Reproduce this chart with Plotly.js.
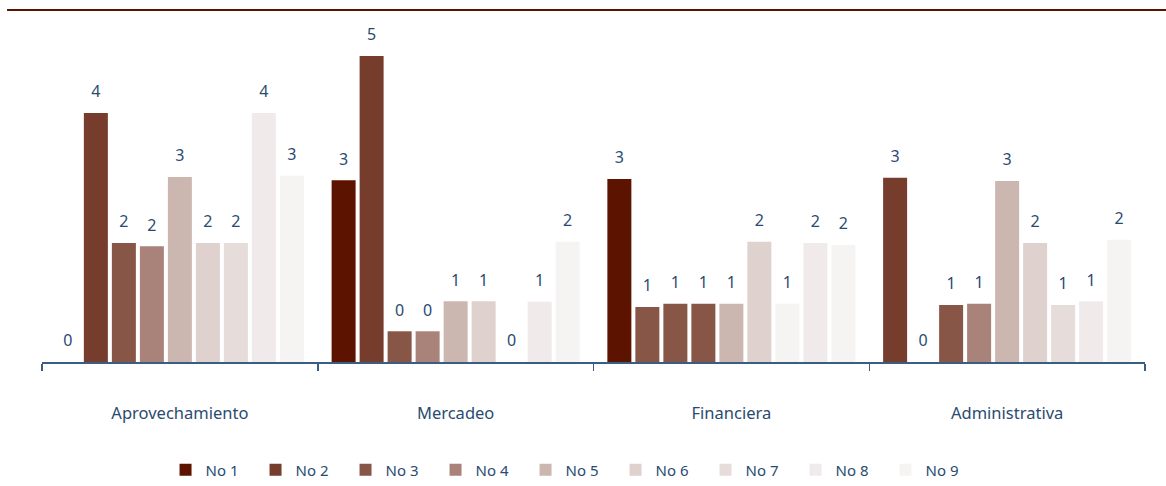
<!DOCTYPE html>
<html>
<head>
<meta charset="utf-8">
<script src="https://cdn.plot.ly/plotly-3.0.1.min.js"></script>
<style>html,body{margin:0;padding:0;background:#fff;}#chart{width:1166px;height:486px;}</style>
</head>
<body>
<div id="chart"></div>
<script>
// ---- data ----
var categories = ['Aprovechamiento', 'Mercadeo', 'Financiera', 'Administrativa'];
var seriesNames = ['No 1', 'No 2', 'No 3', 'No 4', 'No 5', 'No 6', 'No 7', 'No 8', 'No 9'];
var no1 = [0, 2.84, 2.86, 2.88];
var no2 = [3.89, 4.78, 0.86, 0];
var no3 = [1.86, 0.48, 0.91, 0.89];
var no4 = [1.81, 0.48, 0.91, 0.91];
var no5 = [2.89, 0.95, 0.91, 2.83];
var no6 = [1.86, 0.95, 1.88, 1.86];
var no7 = [1.86, 0, 0.91, 0.89];
var no8 = [3.89, 0.94, 1.86, 0.95];
var no9 = [2.91, 1.88, 1.83, 1.91];
var seriesValues = [no1, no2, no3, no4, no5, no6, no7, no8, no9];

// ---- styles ----
var palette = ['#5C1400', '#763D2D', '#885647', '#A98379', '#CBB7B0', '#DED1CE', '#E6DCDA', '#F0EBEA', '#F6F4F3'];
// per-bar colour overrides seen in the reference: [series, category, paletteIndex]
var colorOverrides = [[1, 2, 2], [3, 2, 2], [6, 2, 8], [0, 3, 1]];
var textColor = '#2A4B70';
var axisColor = '#3A5D85';
var fontFamily = '"Noto Sans", "Open Sans", sans-serif';

var traces = [];
seriesValues.forEach(function (vals, i) {
  var cols = categories.map(function () { return palette[i]; });
  colorOverrides.forEach(function (o) { if (o[0] === i) cols[o[1]] = palette[o[2]]; });
  traces.push({
    type: 'bar', name: seriesNames[i], x: categories, y: vals,
    marker: { color: cols, line: { width: 0 } },
    hoverinfo: 'skip'
  });
});
seriesValues.forEach(function (vals, i) {
  traces.push({
    type: 'scatter', mode: 'markers+text', orientation: 'v',
    x: categories, y: vals, showlegend: false, hoverinfo: 'skip',
    text: vals.map(function (v) { return String(Math.round(v)); }),
    textposition: 'top center',
    textfont: { family: fontFamily, size: 16, color: textColor },
    marker: { size: 17, opacity: 0 },
    cliponaxis: false
  });
});

var layout = {
  width: 1166, height: 486,
  margin: { l: 42, r: 21, t: 10, b: 124, autoexpand: false },
  paper_bgcolor: '#ffffff', plot_bgcolor: '#ffffff',
  barmode: 'group', bargap: 0.086, bargroupgap: 0.143,
  scattermode: 'group', scattergap: 0.086,
  showlegend: true,
  legend: {
    orientation: 'h', x: 0.112, xanchor: 'left',
    yref: 'container', y: 0.033, yanchor: 'middle',
    entrywidth: 45, entrywidthmode: 'pixels',
    font: { family: fontFamily, size: 15, color: textColor },
    traceorder: 'normal'
  },
  xaxis: {
    type: 'category', showgrid: false, zeroline: false,
    showline: true, linecolor: axisColor, linewidth: 1.5,
    ticks: 'outside', tickson: 'boundaries', ticklen: 7, tickwidth: 1.5, tickcolor: axisColor,
    ticklabelstandoff: 36,
    tickfont: { family: fontFamily, size: 16.5, color: textColor },
    fixedrange: true, automargin: false
  },
  yaxis: { range: [0, 5.5], visible: false, showgrid: false, zeroline: false, fixedrange: true },
  shapes: [{
    type: 'line', xref: 'paper', yref: 'paper', x0: -0.0317, x1: 1.02, y0: 1, y1: 1,
    line: { color: '#5C1400', width: 2 }
  }]
};

Plotly.newPlot('chart', traces, layout, { staticPlot: true, displayModeBar: false });
</script>
</body>
</html>
